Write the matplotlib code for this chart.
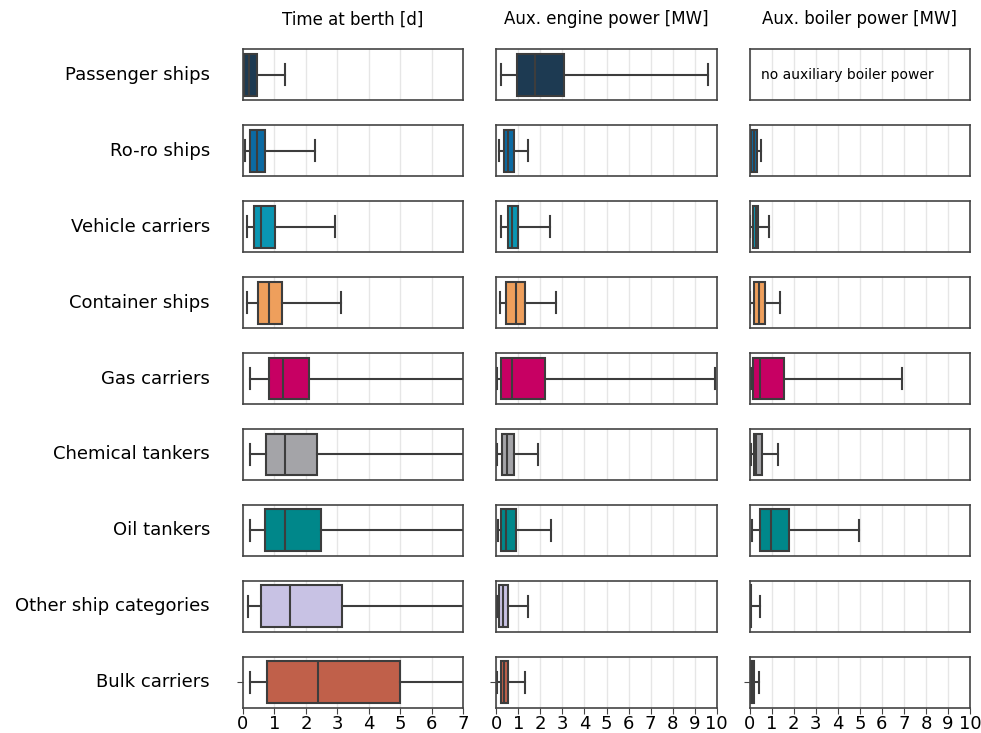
import numpy as np
import matplotlib.pyplot as plt

categories = ['Passenger ships', 'Ro-ro ships', 'Vehicle carriers', 'Container ships',
              'Gas carriers', 'Chemical tankers', 'Oil tankers', 'Other ship categories',
              'Bulk carriers']
colors = ['#1d3a52', '#0b6aa3', '#0a96b3', '#ee9f5c', '#c70063',
          '#a4a4a8', '#00878a', '#c8c2e4', '#c0604a']

panel_titles = ['Time at berth [d]', 'Aux. engine power [MW]', 'Aux. boiler power [MW]']
xmax = [7, 10, 10]

# time at berth [d]
berth_lo = [0.0, 0.07, 0.14, 0.14, 0.22, 0.22, 0.22, 0.16, 0.22]
berth_q1 = [0.03, 0.22, 0.36, 0.49, 0.84, 0.73, 0.70, 0.57, 0.77]
berth_med = [0.2, 0.46, 0.57, 0.82, 1.26, 1.33, 1.35, 1.50, 2.38]
berth_q3 = [0.45, 0.69, 1.03, 1.23, 2.10, 2.35, 2.48, 3.15, 4.99]
berth_hi = [1.33, 2.28, 2.91, 3.11, 8.5, 9.0, 8.8, 9.5, 10.5]

# auxiliary engine power [MW]
eng_lo = [0.2, 0.11, 0.2, 0.17, 0.05, 0.05, 0.08, 0.03, 0.05]
eng_q1 = [0.92, 0.36, 0.54, 0.44, 0.21, 0.27, 0.21, 0.12, 0.21]
eng_med = [1.77, 0.55, 0.70, 0.88, 0.70, 0.47, 0.45, 0.30, 0.35]
eng_q3 = [3.05, 0.82, 0.98, 1.30, 2.21, 0.80, 0.89, 0.53, 0.54]
eng_hi = [9.6, 1.45, 2.43, 2.71, 9.94, 1.91, 2.47, 1.44, 1.28]

# auxiliary boiler power [MW] (none for passenger ships)
boil_lo = [np.nan, 0.0, 0.03, 0.03, 0.04, 0.04, 0.10, 0.0, 0.01]
boil_q1 = [np.nan, 0.06, 0.16, 0.20, 0.14, 0.18, 0.47, 0.0, 0.01]
boil_med = [np.nan, 0.20, 0.28, 0.44, 0.45, 0.30, 0.97, 0.0, 0.10]
boil_q3 = [np.nan, 0.33, 0.39, 0.68, 1.57, 0.54, 1.78, 0.05, 0.20]
boil_hi = [np.nan, 0.51, 0.89, 1.38, 6.93, 1.30, 4.96, 0.45, 0.42]

panels = [
    (berth_lo, berth_q1, berth_med, berth_q3, berth_hi),
    (eng_lo, eng_q1, eng_med, eng_q3, eng_hi),
    (boil_lo, boil_q1, boil_med, boil_q3, boil_hi),
]

line_col = '#3d3d3d'

fig, axes = plt.subplots(len(categories), 3, figsize=(9.81, 7.33), dpi=100,
                         gridspec_kw=dict(left=0.2477, right=0.9888, top=0.9327,
                                          bottom=0.0345, hspace=0.488, wspace=0.15))

for j, (lo, q1, med, q3, hi) in enumerate(panels):
    for i, cat in enumerate(categories):
        ax = axes[i, j]
        ax.set_xlim(0, xmax[j])
        ax.set_ylim(-0.5, 0.5)
        ax.set_xticks(range(xmax[j] + 1))
        ax.grid(axis='x', color='#e6e6e6', lw=1)
        ax.set_axisbelow(True)
        for s in ax.spines.values():
            s.set_color('#444444')
            s.set_linewidth(1.2)

        if np.isnan(lo[i]):
            ax.text(0.5, 0, 'no auxiliary boiler power', fontsize=10,
                    ha='left', va='center')
        else:
            stats = [dict(whislo=lo[i], q1=q1[i], med=med[i], q3=q3[i],
                          whishi=hi[i], fliers=[])]
            ax.bxp(stats, positions=[0], widths=0.82, vert=False, patch_artist=True,
                   boxprops=dict(facecolor=colors[i], edgecolor=line_col, lw=1.5),
                   medianprops=dict(color=line_col, lw=1.5),
                   whiskerprops=dict(color=line_col, lw=1.5),
                   capprops=dict(color=line_col, lw=1.5),
                   capwidths=0.41, manage_ticks=False)

        if i == len(categories) - 1:
            ax.set_yticks([0])
            ax.set_yticklabels([''])
            ax.tick_params(axis='x', labelsize=13, length=4, color='#444444', pad=1.5)
            ax.tick_params(axis='y', length=4, color='#444444')
        else:
            ax.set_yticks([])
            ax.tick_params(axis='x', length=0, labelbottom=False)

        if i == 0:
            ax.set_title(panel_titles[j], fontsize=12, pad=18)
        if j == 0:
            ax.text(-0.15, 0.5, cat, transform=ax.transAxes, fontsize=13,
                    ha='right', va='center')

fig.savefig('out.png', dpi=100)
